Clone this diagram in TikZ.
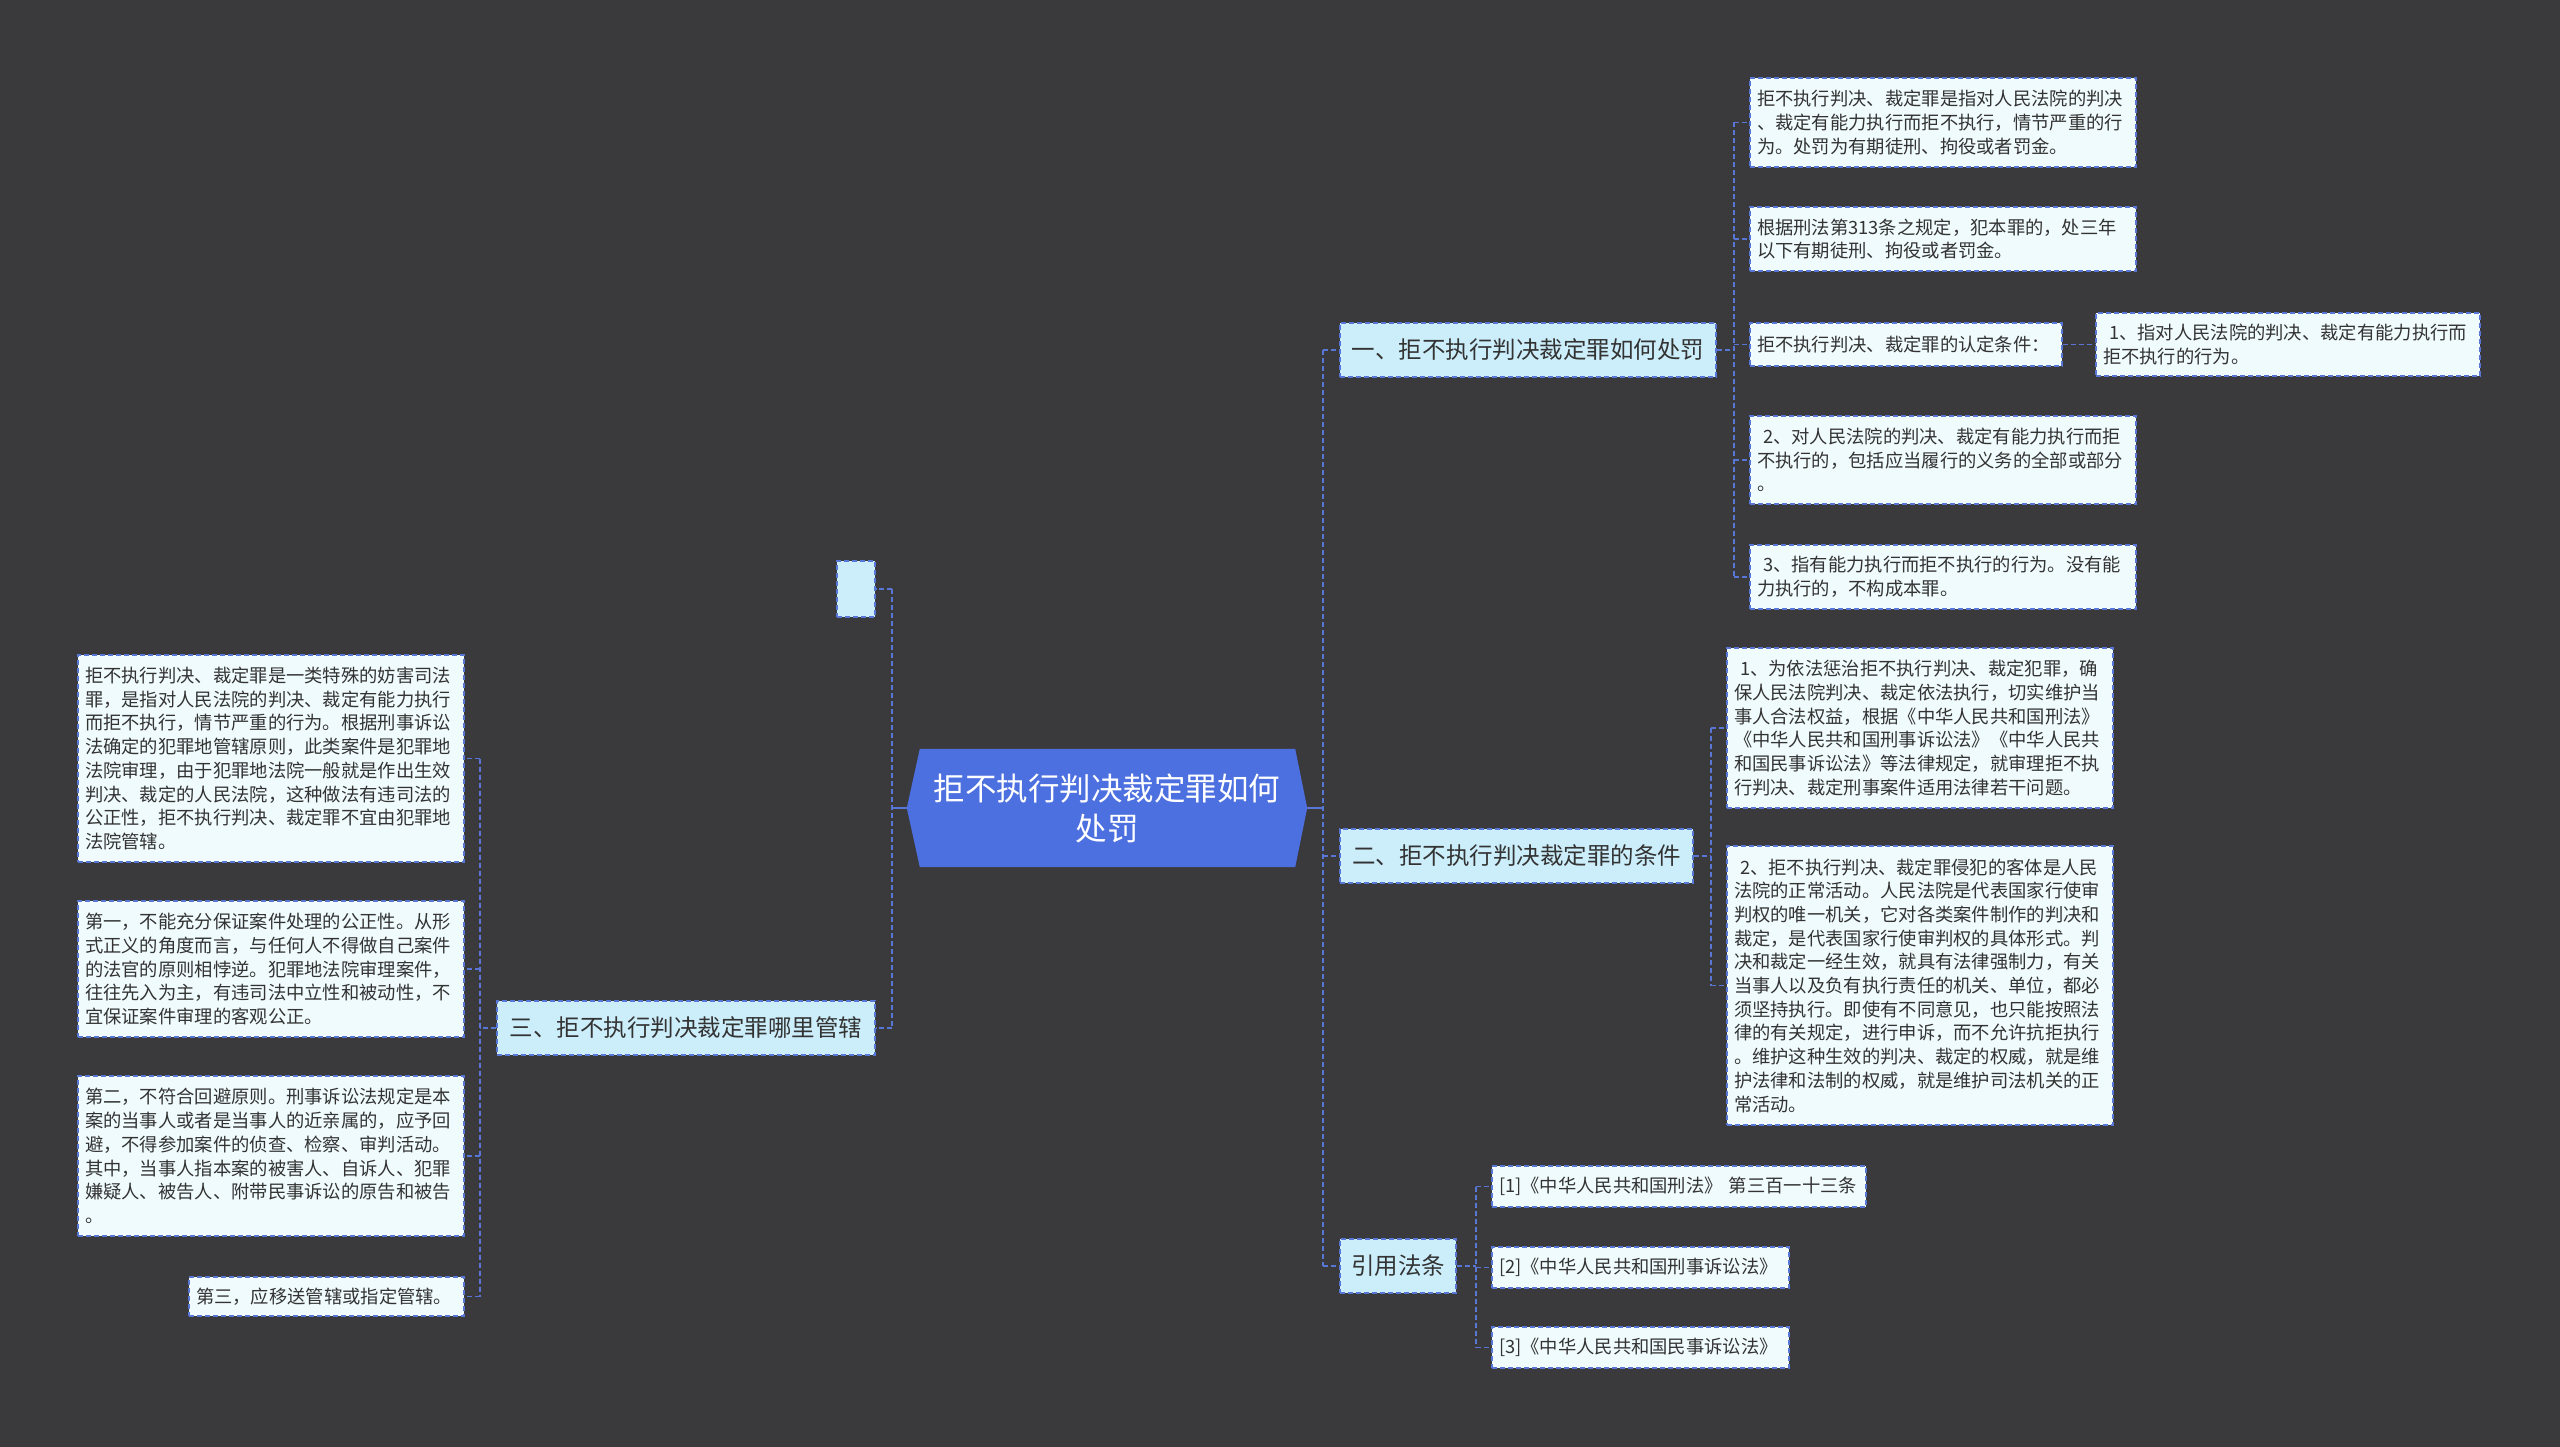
\documentclass[tikz,border=0pt]{standalone}
\usepackage{fontspec}
\setmainfont{Noto Sans CJK SC}
\usetikzlibrary{calc}
\definecolor{bg}{RGB}{58,57,59}
\definecolor{rootfill}{RGB}{77,112,224}
\definecolor{lvlfill}{RGB}{204,238,251}
\definecolor{leaffill}{RGB}{240,251,253}
\definecolor{lineblue}{RGB}{88,118,214}
\definecolor{txt}{RGB}{51,51,51}
\tikzset{
  leaf/.style={draw=lineblue, line width=1.4pt, dash pattern=on 5pt off 3pt, fill=leaffill, text=txt,
    inner xsep=7pt, inner ysep=3pt, align=left, font=\fontsize{18.3}{23.7}\selectfont},
  lvl/.style={draw=lineblue, line width=1.4pt, dash pattern=on 5pt off 3pt, fill=lvlfill, text=txt,
    inner sep=0pt, align=center, font=\fontsize{23.5}{28}\selectfont},
  conn/.style={draw=lineblue, line width=1.8pt, dash pattern=on 5pt off 3pt},
  solidconn/.style={draw=lineblue, line width=1.8pt},
}
\begin{document}
\begin{tikzpicture}[x=1pt,y=-1pt]
\fill[bg] (0,0) rectangle (2560,1447);
\useasboundingbox (0,0) rectangle (2560,1447);

% root
\node[minimum width=400pt, minimum height=118pt, inner sep=0pt] (root) at (1107,808) {};
\fill[rootfill] (root.west) -- ($(root.north west)+(13,0)$) -- ($(root.north east)+(-12,0)$)
  -- (root.east) -- ($(root.south east)+(-12,0)$) -- ($(root.south west)+(13,0)$) -- cycle;
\node[text=white, align=center, font=\fontsize{31.5}{40}\selectfont] (roottext) at (1107,808) {拒不执行判决裁定罪如何\\处罚};

% level 1
\node[lvl, minimum width=376pt, minimum height=54pt] (R1) at (1528,350) {一、拒不执行判决裁定罪如何处罚};
\node[lvl, minimum width=353pt, minimum height=54pt] (R2) at (1516.5,856) {二、拒不执行判决裁定罪的条件};
\node[lvl, minimum width=116pt, minimum height=54pt] (R3) at (1398,1266) {引用法条};
\node[lvl, minimum width=38pt, minimum height=56pt] (L0) at (856,589) {};
\node[lvl, minimum width=378pt, minimum height=54pt] (L1) at (686,1028) {三、拒不执行判决裁定罪哪里管辖};

% R1 children
\node[leaf, minimum width=386pt, minimum height=89pt, text width=372pt] (C1a) at (1943,122.5)
 {拒不执行判决、裁定罪是指对人民法院的判决\\、裁定有能力执行而拒不执行，情节严重的行\\为。处罚为有期徒刑、拘役或者罚金。};
\node[leaf, minimum width=386pt, minimum height=64pt, text width=372pt] (C1b) at (1943,239)
 {根据刑法第313条之规定，犯本罪的，处三年\\以下有期徒刑、拘役或者罚金。};
\node[leaf, minimum width=312pt, minimum height=43pt, text width=298pt] (C1c) at (1906,344.5)
 {拒不执行判决、裁定罪的认定条件：};
\node[leaf, minimum width=384pt, minimum height=63pt, text width=370pt] (C1cc) at (2288,344.5)
 {\ 1、指对人民法院的判决、裁定有能力执行而\\拒不执行的行为。};
\node[leaf, minimum width=386pt, minimum height=88pt, text width=372pt] (C1d) at (1943,460)
 {\ 2、对人民法院的判决、裁定有能力执行而拒\\不执行的，包括应当履行的义务的全部或部分\\。};
\node[leaf, minimum width=386pt, minimum height=64pt, text width=372pt] (C1e) at (1943,577)
 {\ 3、指有能力执行而拒不执行的行为。没有能\\力执行的，不构成本罪。};

% R2 children
\node[leaf, minimum width=386pt, minimum height=160pt, text width=372pt] (C2a) at (1920,728)
 {\ 1、为依法惩治拒不执行判决、裁定犯罪，确\\保人民法院判决、裁定依法执行，切实维护当\\事人合法权益，根据《中华人民共和国刑法》\\《中华人民共和国刑事诉讼法》《中华人民共\\和国民事诉讼法》等法律规定，就审理拒不执\\行判决、裁定刑事案件适用法律若干问题。};
\node[leaf, minimum width=386pt, minimum height=279pt, text width=372pt] (C2b) at (1920,985.5)
 {\ 2、拒不执行判决、裁定罪侵犯的客体是人民\\法院的正常活动。人民法院是代表国家行使审\\判权的唯一机关，它对各类案件制作的判决和\\裁定，是代表国家行使审判权的具体形式。判\\决和裁定一经生效，就具有法律强制力，有关\\当事人以及负有执行责任的机关、单位，都必\\须坚持执行。即使有不同意见，也只能按照法\\律的有关规定，进行申诉，而不允许抗拒执行\\。维护这种生效的判决、裁定的权威，就是维\\护法律和法制的权威，就是维护司法机关的正\\常活动。};

% R3 children
\node[leaf, minimum width=374pt, minimum height=41pt, text width=360pt] (C3a) at (1679,1186.5)
 {[1]《中华人民共和国刑法》 第三百一十三条};
\node[leaf, minimum width=297pt, minimum height=41pt, text width=283pt] (C3b) at (1640.5,1267.5)
 {[2]《中华人民共和国刑事诉讼法》};
\node[leaf, minimum width=297pt, minimum height=41pt, text width=283pt] (C3c) at (1640.5,1347.5)
 {[3]《中华人民共和国民事诉讼法》};

% L1 children
\node[leaf, minimum width=386pt, minimum height=207pt, text width=372pt] (LL1) at (271,758.5)
 {拒不执行判决、裁定罪是一类特殊的妨害司法\\罪，是指对人民法院的判决、裁定有能力执行\\而拒不执行，情节严重的行为。根据刑事诉讼\\法确定的犯罪地管辖原则，此类案件是犯罪地\\法院审理，由于犯罪地法院一般就是作出生效\\判决、裁定的人民法院，这种做法有违司法的\\公正性，拒不执行判决、裁定罪不宜由犯罪地\\法院管辖。};
\node[leaf, minimum width=386pt, minimum height=136pt, text width=372pt] (LL2) at (271,969)
 {第一，不能充分保证案件处理的公正性。从形\\式正义的角度而言，与任何人不得做自己案件\\的法官的原则相悖逆。犯罪地法院审理案件，\\往往先入为主，有违司法中立性和被动性，不\\宜保证案件审理的客观公正。};
\node[leaf, minimum width=386pt, minimum height=160pt, text width=372pt] (LL3) at (271,1156)
 {第二，不符合回避原则。刑事诉讼法规定是本\\案的当事人或者是当事人的近亲属的，应予回\\避，不得参加案件的侦查、检察、审判活动。\\其中，当事人指本案的被害人、自诉人、犯罪\\嫌疑人、被告人、附带民事诉讼的原告和被告\\。};
\node[leaf, minimum width=275pt, minimum height=39pt, text width=261pt] (LL4) at (326.5,1296.5)
 {第三，应移送管辖或指定管辖。};

% connectors: root right
\coordinate (vr) at (1323,808);
\draw[solidconn] (root.east) -- (vr);
\draw[conn] (vr |- R1.west) -- (vr |- R3.west);
\draw[conn] (vr |- R1.west) -- (R1.west);
\draw[conn] (vr |- R2.west) -- (R2.west);
\draw[conn] (vr |- R3.west) -- (R3.west);

% root left
\coordinate (vl) at (892,808);
\draw[solidconn] (root.west) -- (vl);
\draw[conn] (vl |- L0.east) -- (vl |- L1.east);
\draw[conn] (vl |- L0.east) -- (L0.east);
\draw[conn] (vl |- L1.east) -- (L1.east);

% R1 branch
\coordinate (v1) at (1734,350);
\draw[conn] (R1.east) -- (v1);
\draw[conn] (v1 |- C1a.west) -- (v1 |- C1e.west);
\foreach \n in {C1a,C1b,C1c,C1d,C1e} {\draw[conn] (v1 |- \n.west) -- (\n.west);}
\draw[conn] (C1c.east) -- (C1cc.west);

% R2 branch
\coordinate (v2) at (1711,856);
\draw[conn] (R2.east) -- (v2);
\draw[conn] (v2 |- C2a.west) -- (v2 |- C2b.west);
\foreach \n in {C2a,C2b} {\draw[conn] (v2 |- \n.west) -- (\n.west);}

% R3 branch
\coordinate (v3) at (1476,1266);
\draw[conn] (R3.east) -- (v3);
\draw[conn] (v3 |- C3a.west) -- (v3 |- C3c.west);
\foreach \n in {C3a,C3b,C3c} {\draw[conn] (v3 |- \n.west) -- (\n.west);}

% L1 branch
\coordinate (v4) at (480,1028);
\draw[conn] (L1.west) -- (v4);
\draw[conn] (v4 |- LL1.east) -- (v4 |- LL4.east);
\foreach \n in {LL1,LL2,LL3,LL4} {\draw[conn] (v4 |- \n.east) -- (\n.east);}
\end{tikzpicture}
\end{document}
